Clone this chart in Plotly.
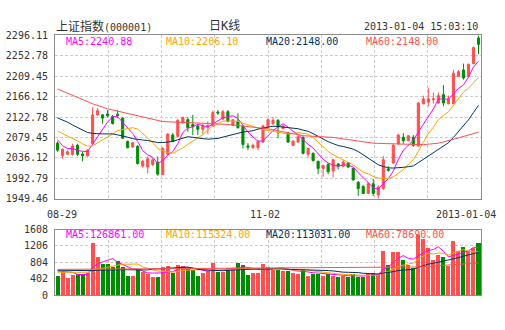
import plotly.graph_objects as go
import pandas as pd

# ---- daily K-line data (index 0 = 08-29 ... 84 = 2013-01-04) ----
opens = [2067.6, 2041.0, 2043.8, 2043.8, 2062.8, 2044.4, 2040.4, 2066.2, 2127.4, 2127.4,
         2129.4, 2124.0, 2128.8, 2120.6, 2071.0, 2059.4, 2060.8, 2018.6, 2016.6, 2022.0,
         2026.8, 2000.9, 2043.8, 2084.6, 2081.8, 2110.4, 2117.2, 2107.0, 2103.6, 2096.8,
         2102.2, 2103.6, 2133.5, 2118.6, 2134.2, 2105.0, 2113.8, 2103.6, 2061.4, 2058.0,
         2058.0, 2069.6, 2102.2, 2108.4, 2115.8, 2098.2, 2088.6, 2062.8, 2069.6, 2079.8,
         2043.8, 2045.8, 2028.8, 2013.8, 2022.0, 2008.4, 2023.4, 2018.6, 2025.4, 2013.8,
         1984.6, 1975.8, 1960.8, 1981.2, 1957.4, 1971.0, 2012.5, 2025.4, 2066.2, 2079.8,
         2073.0, 2079.8, 2061.4, 2151.2, 2154.6, 2159.4, 2152.6, 2170.2, 2151.2, 2151.2,
         2209.0, 2222.6, 2209.0, 2236.2, 2290.6]
highs = [2071.0, 2056.0, 2051.9, 2066.2, 2066.2, 2049.2, 2054.6, 2143.0, 2141.7, 2129.4,
         2137.6, 2127.4, 2137.6, 2122.6, 2073.0, 2069.6, 2062.8, 2032.2, 2039.0, 2035.6,
         2039.0, 2059.4, 2088.6, 2088.6, 2118.6, 2124.0, 2122.6, 2127.4, 2107.0, 2108.4,
         2113.8, 2136.2, 2137.6, 2137.6, 2137.6, 2118.6, 2130.8, 2105.0, 2067.6, 2066.2,
         2073.0, 2107.0, 2119.9, 2122.6, 2118.6, 2107.0, 2091.4, 2074.4, 2083.2, 2081.8,
         2057.4, 2047.8, 2030.2, 2022.0, 2025.4, 2034.2, 2025.4, 2032.2, 2027.4, 2015.2,
         1986.6, 1977.8, 1984.6, 1991.4, 1977.8, 2040.4, 2018.6, 2066.2, 2086.6, 2088.6,
         2084.6, 2084.6, 2154.6, 2168.2, 2185.2, 2175.0, 2175.0, 2190.6, 2168.2, 2222.6,
         2222.6, 2236.2, 2236.2, 2272.2, 2296.11]
lows = [2049.2, 2034.2, 2042.4, 2041.0, 2040.4, 2028.8, 2039.0, 2066.2, 2126.0, 2108.4,
        2122.6, 2107.0, 2120.6, 2076.4, 2056.0, 2057.4, 2022.0, 2015.2, 2003.0, 2018.6,
        1998.2, 1999.6, 2042.4, 2069.6, 2079.8, 2109.0, 2091.4, 2084.6, 2084.6, 2086.6,
        2086.6, 2102.2, 2127.4, 2117.2, 2111.8, 2103.6, 2098.2, 2056.0, 2052.6, 2054.6,
        2052.6, 2068.2, 2100.2, 2107.0, 2077.8, 2096.8, 2068.2, 2061.4, 2068.2, 2043.8,
        2037.0, 2028.8, 2001.6, 1996.2, 2001.6, 1994.8, 2011.8, 2016.6, 2015.2, 1988.0,
        1955.4, 1959.4, 1959.4, 1955.4, 1949.46, 1967.6, 2007.0, 2023.4, 2064.2, 2066.2,
        2071.0, 2059.4, 2059.4, 2149.8, 2145.8, 2151.2, 2151.2, 2145.8, 2149.8, 2149.8,
        2207.6, 2202.2, 2207.6, 2234.8, 2256.6]
closes = [2052.6, 2054.6, 2049.2, 2061.4, 2043.8, 2041.0, 2052.6, 2127.4, 2136.2, 2120.6,
          2125.4, 2109.0, 2126.0, 2077.8, 2058.0, 2068.2, 2024.0, 2028.8, 2034.2, 2032.2,
          2001.6, 2056.0, 2086.6, 2071.0, 2115.8, 2122.0, 2100.2, 2102.2, 2096.8, 2103.6,
          2105.0, 2132.2, 2131.5, 2134.2, 2113.8, 2117.2, 2100.2, 2064.8, 2058.7, 2062.8,
          2071.0, 2103.6, 2117.2, 2115.8, 2102.2, 2103.6, 2069.6, 2071.6, 2081.2, 2045.8,
          2056.0, 2030.2, 2013.8, 2019.9, 2007.0, 2032.2, 2018.6, 2027.4, 2016.6, 1989.4,
          1971.0, 1960.8, 1981.2, 1960.8, 1974.4, 2032.2, 2009.8, 2062.8, 2084.6, 2073.0,
          2083.2, 2062.8, 2152.6, 2161.4, 2161.4, 2161.4, 2168.2, 2152.6, 2161.4, 2215.8,
          2219.2, 2205.6, 2234.8, 2270.2, 2277.0]
volumes = [482, 583, 426, 506, 529, 529, 543, 1282, 955, 762,
           776, 699, 839, 699, 482, 482, 659, 583, 529, 450,
           466, 699, 715, 543, 739, 715, 683, 622, 482, 543,
           606, 792, 583, 583, 683, 659, 799, 739, 506, 559,
           559, 776, 699, 636, 636, 606, 600, 560, 540, 620,
           480, 540, 520, 480, 520, 482, 443, 482, 450, 520,
           443, 443, 529, 559, 529, 1102, 739, 1072, 1072, 869,
           739, 676, 1491, 1398, 1165, 869, 995, 948, 715, 1335,
           1102, 1181, 1088, 1165, 1282]

# moving-average values before a full window of closes is on screen
ma5_lead = [2075, 2062, 2056, 2056]
ma10_lead = [2093, 2088, 2082, 2077, 2072, 2066, 2061, 2062, 2068]
ma20_lead = [2121, 2117, 2112, 2106, 2101, 2095, 2090, 2088, 2087, 2087,
             2087, 2087, 2085, 2083, 2080, 2077, 2075, 2074, 2073]
ma60_idx = [0, 7, 10, 15, 21, 27, 34, 42, 49, 55, 63, 69, 73, 76, 79, 84]
ma60_val = [2182.5, 2150.9, 2140.3, 2127.5, 2113.2, 2110.6, 2107.1, 2097.9,
            2083.2, 2079.6, 2067.3, 2065.3, 2064.3, 2067.3, 2075.5, 2090.8]

vma5_lead = [590, 580, 560, 560]
vma10_lead = [560, 560, 555, 555, 555, 560, 560, 620, 650]
vma20_lead = [610, 608, 605, 600, 598, 596, 594, 600, 610, 615,
              620, 622, 625, 625, 622, 620, 620, 618, 616]
vma60_idx = [0, 30, 55, 72, 84]
vma60_val = [631, 648, 672, 690, 787]

# axis labels and header texts
price_ticks = [1949.46, 1992.79, 2036.12, 2079.45, 2122.78, 2166.12, 2209.45, 2252.78, 2296.11]
vol_ticks = [0, 402, 804, 1206, 1608]
date_labels = ["08-29", "11-02", "2013-01-04"]
title_name = "上证指数"
title_code = "(000001)"
title_kind = "日K线"
stamp = "2013-01-04 15:03:10"
ma_names = ["MA5:2240.88", "MA10:2206.10", "MA20:2148.00", "MA60:2148.00"]
vma_names = ["MA5:126861.00", "MA10:115324.00", "MA20:113031.00", "MA60:78690.00"]

UP, DOWN = "#ff4f4f", "#008c00"
MA_COLORS = ["#ff00ff", "#ffa500", "#003366", "#ff4f4f"]
GRID = "#cccccc"
FRAME = "#8c8c8c"
TEXT = "#333333"
MONO = "DejaVu Sans Mono, Noto Sans CJK SC, monospace"

W, H = 505, 330
X0, X1 = 55, 481
MAIN_T, MAIN_B = 30.5, 200
VOL_T, VOL_B = 232, 300


def fx(px):
    return px / W


def fy(py):
    return 1 - py / H


n = len(closes)
idx = list(range(n))


def moving(series, window, lead):
    full = pd.Series(series).rolling(window).mean().tolist()
    return lead + full[len(lead):]


ma5 = moving(closes, 5, ma5_lead)
ma10 = moving(closes, 10, ma10_lead)
ma20 = moving(closes, 20, ma20_lead)
vma5 = moving(volumes, 5, vma5_lead)
vma10 = moving(volumes, 10, vma10_lead)
vma20 = moving(volumes, 20, vma20_lead)

fig = go.Figure()

fig.add_trace(go.Candlestick(
    x=idx, open=opens, high=highs, low=lows, close=closes,
    increasing=dict(line=dict(color=UP, width=1), fillcolor=UP),
    decreasing=dict(line=dict(color=DOWN, width=1), fillcolor=DOWN),
    whiskerwidth=0, xaxis="x", yaxis="y", showlegend=False, hoverinfo="skip"))

for ys, xs, c in [(ma5, idx, MA_COLORS[0]), (ma10, idx, MA_COLORS[1]),
                  (ma20, idx, MA_COLORS[2]), (ma60_val, ma60_idx, MA_COLORS[3])]:
    fig.add_trace(go.Scatter(x=xs, y=ys, mode="lines", line=dict(color=c, width=1),
                             xaxis="x", yaxis="y", showlegend=False, hoverinfo="skip"))

bar_colors = [UP if c >= o else DOWN for o, c in zip(opens, closes)]
fig.add_trace(go.Bar(x=idx, y=volumes, marker=dict(color=bar_colors, line=dict(width=0)),
                     width=0.8, xaxis="x2", yaxis="y2", showlegend=False, hoverinfo="skip"))

for ys, xs, c in [(vma5, idx, MA_COLORS[0]), (vma10, idx, MA_COLORS[1]),
                  (vma20, idx, MA_COLORS[2]), (vma60_val, vma60_idx, MA_COLORS[3])]:
    fig.add_trace(go.Scatter(x=xs, y=ys, mode="lines", line=dict(color=c, width=1),
                             xaxis="x2", yaxis="y2", showlegend=False, hoverinfo="skip"))

xcommon = dict(range=[-0.5, n - 0.5], tickmode="linear", tick0=-0.5, dtick=n / 8,
               showticklabels=False, ticks="", showgrid=True, gridcolor=GRID,
               griddash="3px,2px", gridwidth=1, zeroline=False, showline=True,
               mirror=True, linecolor=FRAME, linewidth=1, fixedrange=True,
               domain=[fx(X0), fx(X1)])
ycommon = dict(showgrid=True, gridcolor=GRID, griddash="3px,2px", gridwidth=1,
               zeroline=False, showline=True, mirror=True, linecolor=FRAME,
               linewidth=1, ticks="", ticklabelstandoff=4,
               tickfont=dict(family=MONO, size=10, color=TEXT), fixedrange=True)

fig.update_layout(
    width=W, height=H, autosize=False,
    margin=dict(l=0, r=0, t=0, b=0),
    paper_bgcolor="white", plot_bgcolor="white",
    boxgap=0.4,
    bargap=0,
    xaxis=dict(xcommon, anchor="y", rangeslider=dict(visible=False)),
    yaxis=dict(ycommon, anchor="x", domain=[fy(MAIN_B), fy(MAIN_T)],
               range=[price_ticks[0], price_ticks[-1]],
               tickmode="array", tickvals=price_ticks,
               ticktext=[f"{v:.2f}" for v in price_ticks]),
    xaxis2=dict(xcommon, anchor="y2"),
    yaxis2=dict(ycommon, anchor="x2", domain=[fy(VOL_B), fy(VOL_T)],
                range=[vol_ticks[0], vol_ticks[-1]],
                tickmode="array", tickvals=vol_ticks,
                ticktext=[str(v) for v in vol_ticks]),
)

ann = []


def text(x, y, s, color=TEXT, anchor="left", size=10):
    ann.append(dict(xref="paper", yref="paper", x=fx(x), y=fy(y), text=s,
                    showarrow=False, xanchor=anchor, yanchor="middle",
                    font=dict(family=MONO, size=size, color=color)))


text(54, 21, f'<span style="font-size:12px">{title_name}</span>{title_code}')
text(207, 21, title_kind, size=12)
text(480, 21, stamp, anchor="right")

for k, (s, c) in enumerate(zip(ma_names, MA_COLORS)):
    text(64 + 100 * k, 36.5, s, color=c)
for k, (s, c) in enumerate(zip(vma_names, MA_COLORS)):
    text(64 + 100 * k, 237, s, color=c)

text(45, 216.5, date_labels[0])
text(265, 216.5, date_labels[1], anchor="center")
text(498, 216.5, date_labels[2], anchor="right")

fig.update_layout(annotations=ann)

fig.write_html("out.html", config={"displayModeBar": False})
